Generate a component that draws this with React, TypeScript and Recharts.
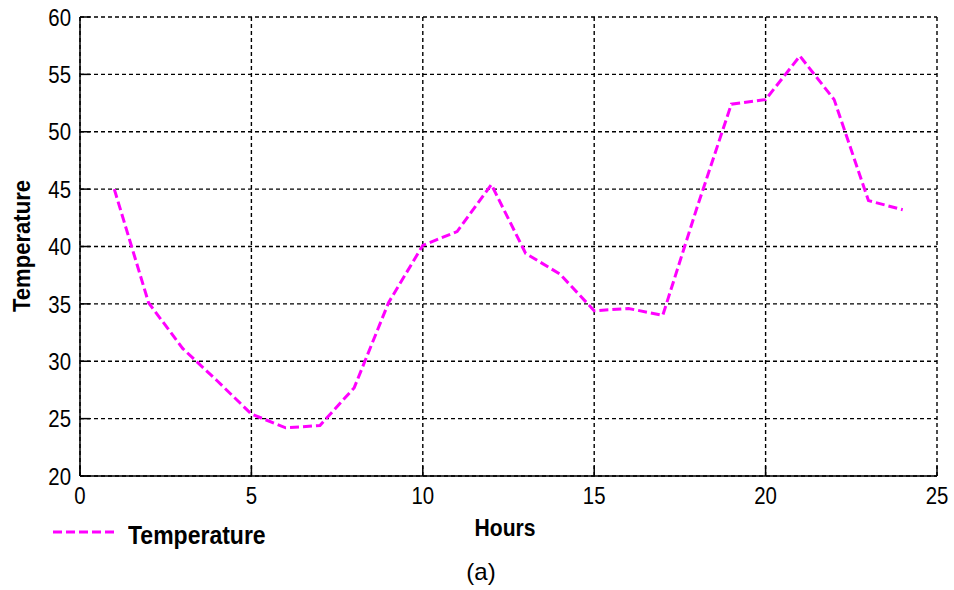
import { LineChart, Line, XAxis, YAxis, CartesianGrid } from 'recharts';

const hours = [1, 2, 3, 4, 5, 6, 7, 8, 9, 10, 11, 12, 13, 14, 15, 16, 17, 18, 19, 20, 21, 22, 23, 24];
const temperature = [45, 35.1, 31.1, 28.3, 25.4, 24.2, 24.4, 27.7, 35.1, 40.1, 41.3, 45.4, 39.4, 37.6, 34.4, 34.6, 34.0, 43.4, 52.4, 52.8, 56.6, 52.8, 44.0, 43.2];
const xTicks = [0, 5, 10, 15, 20, 25];
const yTicks = [20, 25, 30, 35, 40, 45, 50, 55, 60];

const data = hours.map((h, i) => ({ hour: h, temp: temperature[i] }));

const FONT = "'Liberation Sans', Arial, sans-serif";
const MAGENTA = '#ff00ff';

// narrow-looking tick labels like the original
function XTick({ x, y, payload }: any) {
  return (
    <g transform={`translate(${x},${y}) scale(0.85,1)`}>
      <text x={0} y={0} dy="0.72em" textAnchor="middle" fill="#000" fontSize={24} fontFamily={FONT}>
        {payload.value}
      </text>
    </g>
  );
}

function YTick({ x, y, payload }: any) {
  return (
    <g transform={`translate(${x},${y}) scale(0.85,1)`}>
      <text x={0} y={0} dy="0.36em" textAnchor="end" fill="#000" fontSize={24} fontFamily={FONT}>
        {payload.value}
      </text>
    </g>
  );
}

const axisLine = { stroke: '#000', strokeWidth: 1.5 };

export default function App() {
  return (
    <div style={{ position: 'absolute', left: 0, top: 0, width: 954, height: 590, background: '#fff' }}>
      <LineChart width={954} height={590} data={data} margin={{ top: 17, right: 17, left: 0, bottom: 0 }}>
        <CartesianGrid stroke="#000" strokeDasharray="4 3" strokeWidth={1.4} />
        <XAxis
          dataKey="hour"
          type="number"
          domain={[0, 25]}
          ticks={xTicks}
          height={114}
          axisLine={axisLine}
          tickLine={axisLine}
          tickSize={-10}
          tickMargin={21}
          tick={<XTick />}
        />
        <XAxis
          xAxisId="top"
          orientation="top"
          type="number"
          domain={[0, 25]}
          ticks={xTicks}
          height={0}
          axisLine={axisLine}
          tickLine={axisLine}
          tickSize={-10}
          tickFormatter={() => ''}
        />
        <YAxis
          type="number"
          domain={[20, 60]}
          ticks={yTicks}
          width={80}
          axisLine={axisLine}
          tickLine={axisLine}
          tickSize={-10}
          tickMargin={19}
          tick={<YTick />}
        />
        <YAxis
          yAxisId="right"
          orientation="right"
          type="number"
          domain={[20, 60]}
          ticks={yTicks}
          width={0}
          axisLine={axisLine}
          tickLine={axisLine}
          tickSize={-10}
          tickFormatter={() => ''}
        />
        <Line
          type="linear"
          dataKey="temp"
          name="Temperature"
          stroke={MAGENTA}
          strokeWidth={3}
          strokeDasharray="9 4"
          dot={false}
          activeDot={false}
          isAnimationActive={false}
        />
      </LineChart>
      <div style={{ position: 'absolute', left: 22, top: 246, width: 0, height: 0 }}>
        <div style={{ position: 'absolute', left: -100, top: -14, width: 200, textAlign: 'center', transform: 'rotate(-90deg) scale(0.92,1)', fontFamily: FONT, fontWeight: 'bold', fontSize: 24, lineHeight: '28px' }}>
          Temperature
        </div>
      </div>
      <div style={{ position: 'absolute', left: 405, top: 513, width: 200, textAlign: 'center', transform: 'scale(0.88,1)', fontFamily: FONT, fontWeight: 'bold', fontSize: 24, lineHeight: '30px' }}>
        Hours
      </div>
      <svg style={{ position: 'absolute', left: 52, top: 522 }} width={68} height={20}>
        <line x1={1} y1={10} x2={66} y2={10} stroke={MAGENTA} strokeWidth={3} strokeDasharray="9 4" />
      </svg>
      <div style={{ position: 'absolute', left: 128, top: 520, transformOrigin: 'left center', transform: 'scale(0.92,1)', fontFamily: FONT, fontWeight: 'bold', fontSize: 25, lineHeight: '30px', whiteSpace: 'nowrap' }}>
        Temperature
      </div>
      <div style={{ position: 'absolute', left: 381, top: 556, width: 200, textAlign: 'center', fontFamily: FONT, fontSize: 24, lineHeight: '32px' }}>
        (a)
      </div>
    </div>
  );
}
